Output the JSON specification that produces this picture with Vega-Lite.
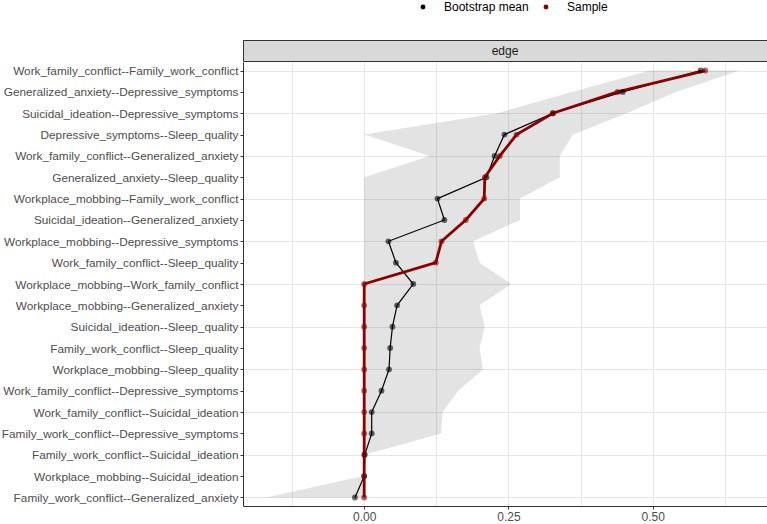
{
  "$schema": "https://vega.github.io/schema/vega-lite/v6.json",
  "padding": {"left": 0, "top": 1, "right": 0, "bottom": 0},
  "background": "white",
  "config": {
    "font": "Liberation Sans",
    "concat": {"spacing": 0},
    "view": {"stroke": null}
  },
  "datasets": {
    "edges": [
      {"rank": 1, "edge": "Work_family_conflict--Family_work_conflict", "boot": 0.583, "sample": 0.591, "lo": 0.495, "hi": 0.651},
      {"rank": 2, "edge": "Generalized_anxiety--Depressive_symptoms", "boot": 0.448, "sample": 0.439, "lo": 0.36, "hi": 0.54},
      {"rank": 3, "edge": "Suicidal_ideation--Depressive_symptoms", "boot": 0.327, "sample": 0.327, "lo": 0.23, "hi": 0.455},
      {"rank": 4, "edge": "Depressive_symptoms--Sleep_quality", "boot": 0.243, "sample": 0.264, "lo": 0.0, "hi": 0.362},
      {"rank": 5, "edge": "Work_family_conflict--Generalized_anxiety", "boot": 0.226, "sample": 0.235, "lo": 0.113, "hi": 0.339},
      {"rank": 6, "edge": "Generalized_anxiety--Sleep_quality", "boot": 0.212, "sample": 0.209, "lo": 0.0, "hi": 0.339},
      {"rank": 7, "edge": "Workplace_mobbing--Family_work_conflict", "boot": 0.127, "sample": 0.208, "lo": 0.0, "hi": 0.27},
      {"rank": 8, "edge": "Suicidal_ideation--Generalized_anxiety", "boot": 0.139, "sample": 0.176, "lo": 0.0, "hi": 0.27},
      {"rank": 9, "edge": "Workplace_mobbing--Depressive_symptoms", "boot": 0.042, "sample": 0.134, "lo": 0.0, "hi": 0.189},
      {"rank": 10, "edge": "Work_family_conflict--Sleep_quality", "boot": 0.055, "sample": 0.124, "lo": 0.0, "hi": 0.2},
      {"rank": 11, "edge": "Workplace_mobbing--Work_family_conflict", "boot": 0.085, "sample": 0.0, "lo": 0.0, "hi": 0.255},
      {"rank": 12, "edge": "Workplace_mobbing--Generalized_anxiety", "boot": 0.057, "sample": 0.0, "lo": 0.0, "hi": 0.2},
      {"rank": 13, "edge": "Suicidal_ideation--Sleep_quality", "boot": 0.049, "sample": 0.0, "lo": 0.0, "hi": 0.209},
      {"rank": 14, "edge": "Family_work_conflict--Sleep_quality", "boot": 0.045, "sample": 0.0, "lo": 0.0, "hi": 0.2},
      {"rank": 15, "edge": "Workplace_mobbing--Sleep_quality", "boot": 0.043, "sample": 0.0, "lo": 0.0, "hi": 0.206},
      {"rank": 16, "edge": "Work_family_conflict--Depressive_symptoms", "boot": 0.03, "sample": 0.0, "lo": 0.0, "hi": 0.163},
      {"rank": 17, "edge": "Work_family_conflict--Suicidal_ideation", "boot": 0.013, "sample": 0.0, "lo": 0.0, "hi": 0.136},
      {"rank": 18, "edge": "Family_work_conflict--Depressive_symptoms", "boot": 0.013, "sample": 0.0, "lo": 0.0, "hi": 0.133},
      {"rank": 19, "edge": "Family_work_conflict--Suicidal_ideation", "boot": 0.001, "sample": 0.0, "lo": 0.0, "hi": 0.001},
      {"rank": 20, "edge": "Workplace_mobbing--Suicidal_ideation", "boot": 0.0, "sample": 0.0, "lo": -0.002, "hi": 0.0},
      {"rank": 21, "edge": "Family_work_conflict--Generalized_anxiety", "boot": -0.016, "sample": 0.0, "lo": -0.17, "hi": 0.0}
    ]
  },
  "vconcat": [
    {
      "width": 524,
      "height": 21,
      "view": {"fill": "#d9d9d9", "stroke": "#333333", "strokeWidth": 1},
      "data": {"values": [{"panel": "edge"}]},
      "mark": {"type": "text", "fontSize": 12, "color": "#1a1a1a"},
      "encoding": {"text": {"field": "panel"}}
    },
    {
      "width": 524,
      "height": 444,
      "data": {"name": "edges"},
      "layer": [
        {
          "layer": [
            {
              "mark": {"type": "area", "orient": "horizontal", "color": "#000000", "opacity": 0.11},
              "encoding": {
                "x": {
                  "field": "lo", "type": "quantitative", "title": null,
                  "scale": {"domain": [-0.21, 0.698], "nice": false, "zero": false},
                  "axis": {
                    "values": [-0.125, 0, 0.125, 0.25, 0.375, 0.5, 0.625],
                    "labelExpr": "datum.value == 0 ? '0.00' : datum.value == 0.25 ? '0.25' : datum.value == 0.5 ? '0.50' : ''",
                    "tickOpacity": {"condition": {"test": "datum.value == 0 || datum.value == 0.25 || datum.value == 0.5", "value": 1}, "value": 0},
                    "grid": true, "gridColor": "#e6e6e6", "gridWidth": 1,
                    "domainColor": "#333333", "tickColor": "#333333", "tickSize": 3,
                    "labelColor": "#4d4d4d", "labelFontSize": 12, "labelPadding": 2
                  }
                },
                "x2": {"field": "hi"},
                "y": {
                  "field": "rank", "type": "quantitative", "title": null,
                  "scale": {"domain": [0.6, 21.4], "reverse": true, "nice": false, "zero": false},
                  "axis": {
                    "orient": "right",
                    "values": [1, 1.5, 2, 2.5, 3, 3.5, 4, 4.5, 5, 5.5, 6, 6.5, 7, 7.5, 8, 8.5, 9, 9.5, 10, 10.5, 11, 11.5, 12, 12.5, 13, 13.5, 14, 14.5, 15, 15.5, 16, 16.5, 17, 17.5, 18, 18.5, 19, 19.5, 20, 20.5, 21],
                    "labels": false, "ticks": false, "domain": false,
                    "grid": true, "gridColor": "#e6e6e6", "gridWidth": 1
                  }
                }
              }
            },
            {
              "mark": {"type": "line", "color": "#000000", "strokeWidth": 1.2},
              "encoding": {
                "x": {"field": "boot", "type": "quantitative"},
                "y": {"field": "rank", "type": "quantitative"},
                "order": {"field": "rank"}
              }
            },
            {
              "mark": {"type": "line", "color": "#8b0000", "strokeWidth": 2.8},
              "encoding": {
                "x": {"field": "sample", "type": "quantitative"},
                "y": {"field": "rank", "type": "quantitative"},
                "order": {"field": "rank"}
              }
            },
            {
              "transform": [{"fold": ["boot", "sample"], "as": ["type", "value"]}],
              "mark": {"type": "point", "filled": true, "size": 34, "opacity": 0.6},
              "encoding": {
                "x": {"field": "value", "type": "quantitative"},
                "y": {"field": "rank", "type": "quantitative"},
                "color": {
                  "field": "type", "type": "nominal",
                  "scale": {"domain": ["boot", "sample"], "range": ["#000000", "#8b0000"]},
                  "legend": {
                    "title": null, "orient": "none", "direction": "horizontal",
                    "legendX": 174, "legendY": -39,
                    "labelExpr": "datum.label == 'boot' ? 'Bootstrap mean' : 'Sample'",
                    "symbolType": "circle", "symbolSize": 24, "symbolOpacity": 1,
                    "labelFontSize": 12, "labelColor": "#000000", "labelOffset": 15,
                    "columnPadding": 11
                  }
                }
              }
            }
          ]
        },
        {
          "mark": {"type": "point", "opacity": 0},
          "encoding": {
            "x": {"field": "boot", "type": "quantitative"},
            "y": {
              "field": "edge", "type": "nominal", "sort": null, "title": null,
              "scale": {"type": "point", "padding": 0.4},
              "axis": {
                "orient": "left", "grid": false,
                "domainColor": "#333333", "tickColor": "#333333", "tickSize": 3,
                "labelColor": "#4d4d4d", "labelFontSize": 11.8, "labelPadding": 2,
                "labelLimit": 300, "minExtent": 243, "maxExtent": 243
              }
            }
          }
        }
      ],
      "resolve": {"scale": {"y": "independent"}}
    }
  ]
}
